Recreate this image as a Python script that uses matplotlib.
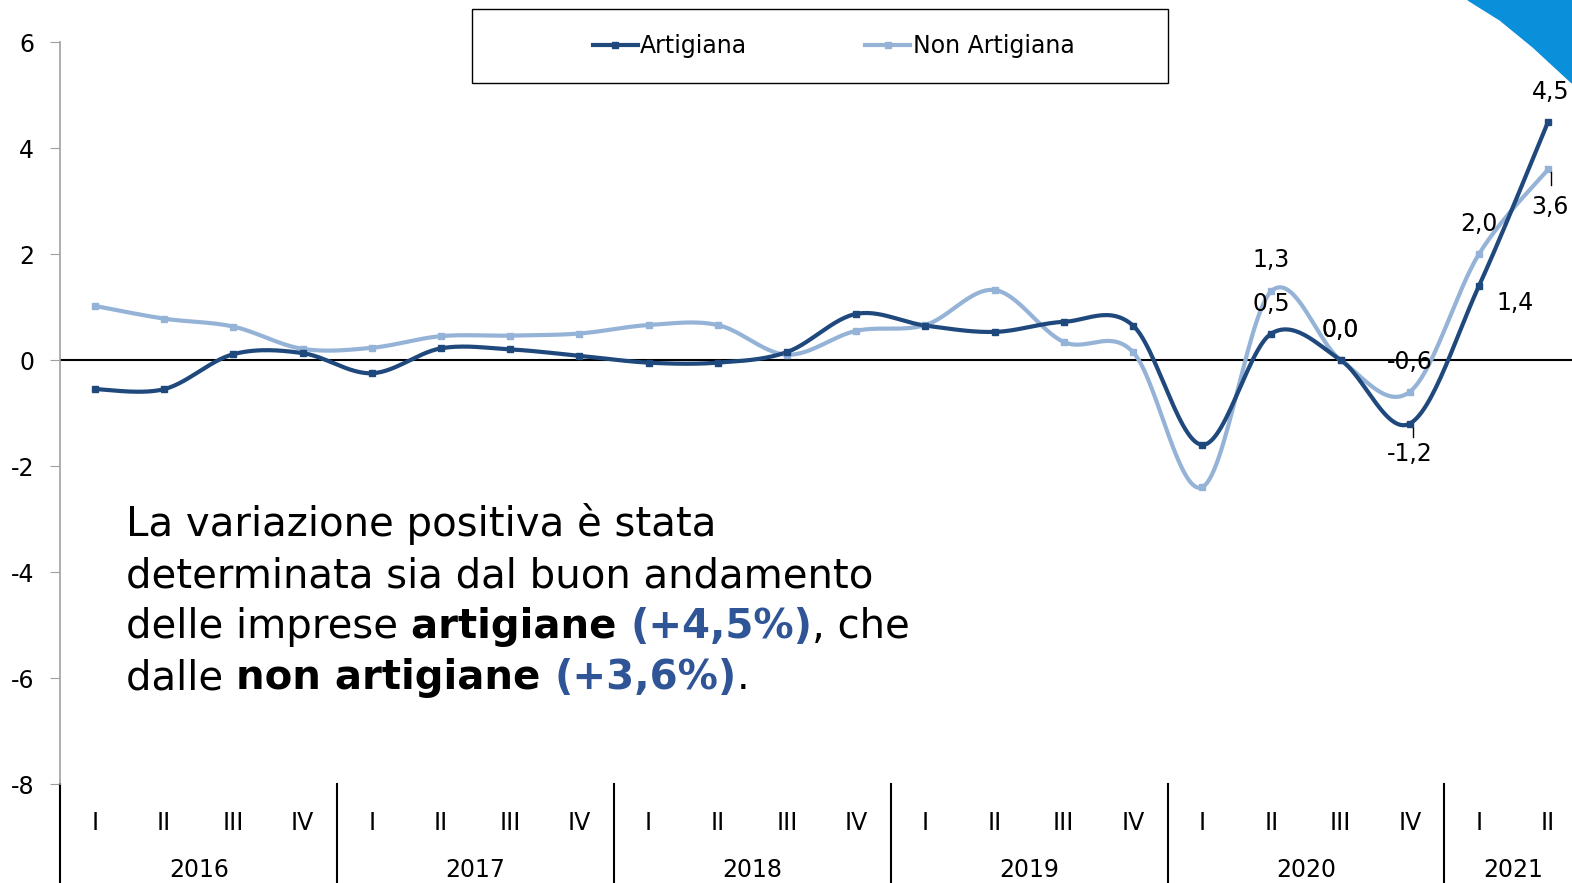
import numpy as np
import matplotlib.pyplot as plt
from matplotlib.patches import Polygon, Rectangle
from matplotlib import transforms

quarters = ["I", "II", "III", "IV"] * 5 + ["I", "II"]
years = ["2016", "2017", "2018", "2019", "2020", "2021"]
year_counts = [4, 4, 4, 4, 4, 2]

artigiana = [-0.55, -0.55, 0.11, 0.13, -0.25, 0.22, 0.20, 0.08, -0.05, -0.05, 0.15, 0.87,
             0.65, 0.53, 0.72, 0.65, -1.6, 0.5, 0.0, -1.2, 1.4, 4.5]
non_artigiana = [1.02, 0.78, 0.63, 0.21, 0.23, 0.45, 0.46, 0.50, 0.66, 0.66, 0.10, 0.55,
                 0.66, 1.32, 0.34, 0.15, -2.4, 1.3, 0.0, -0.6, 2.0, 3.6]

# labels shown only from 2020 II onwards: (index, offset in px)
lab_art = {17: (0, 30), 18: (0, 30), 19: (0, -30), 20: (36, -17), 21: (2, 29)}
lab_non = {17: (0, 31), 18: (0, 30), 19: (0, 30), 20: (0, 30), 21: (2, -38)}

DARK = "#1F497D"
LIGHT = "#95B3D7"
FONT = ["DejaVu Sans"]
TXT = ["DejaVu Sans"]

W, H = 1572, 883
fig = plt.figure(figsize=(W / 100, H / 100), dpi=100)
ax = fig.add_axes([60.4 / W, (H - 784) / H, 1522.4 / W, 742 / H])


def smooth(y, n=30):
    # Catmull-Rom style bezier, like the "smoothed line" option
    x = np.arange(len(y), dtype=float)
    p = np.column_stack([x, np.asarray(y, dtype=float)])
    out = [p[0]]
    t = np.linspace(0, 1, n)[1:, None]
    for i in range(len(p) - 1):
        p0 = p[i - 1] if i > 0 else p[i]
        p3 = p[i + 2] if i + 2 < len(p) else p[i + 1]
        c1 = p[i] + (p[i + 1] - p0) / 6
        c2 = p[i + 1] - (p3 - p[i]) / 6
        seg = ((1 - t) ** 3) * p[i] + 3 * ((1 - t) ** 2) * t * c1 + 3 * (1 - t) * t ** 2 * c2 + t ** 3 * p[i + 1]
        out.extend(seg)
    out = np.array(out)
    return out[:, 0], out[:, 1]


xs = np.arange(len(quarters))
for vals, col, name in [(non_artigiana, LIGHT, "Non Artigiana"), (artigiana, DARK, "Artigiana")]:
    sx, sy = smooth(vals)
    ax.plot(sx, sy, color=col, lw=3, solid_capstyle="round", zorder=3)
    ax.plot(xs, vals, ls="none", marker="s", ms=5, color=col, zorder=4)

ax.axhline(0, color="black", lw=1.5, zorder=2)

for vals, labs in [(artigiana, lab_art), (non_artigiana, lab_non)]:
    for i, (dx, dy) in labs.items():
        ax.annotate(f"{vals[i]:.1f}".replace(".", ","), (xs[i], vals[i]), xytext=(dx * 0.72, dy * 0.72),
                    textcoords="offset points", ha="center", va="center", fontsize=17,
                    family=FONT, zorder=5)
# small leader ticks
for i, vals, y0, y1 in [(19, artigiana, -4, -13), (21, non_artigiana, -3, -16)]:
    ax.plot([xs[i] + 0.04] * 2, [vals[i] - abs(y0) / 53, vals[i] - abs(y1) / 53],
            color="black", lw=1, zorder=5)

ax.set_xlim(-0.5, len(quarters) - 0.5)
ax.set_ylim(-8, 6)
ax.set_yticks(np.arange(-8, 7, 2))
ax.set_yticklabels([str(v) for v in range(-8, 7, 2)], fontsize=17, family=FONT)
ax.tick_params(axis="y", length=7, color="#A0A0A0", pad=12)
ax.set_xticks([])
for s in ["top", "right", "bottom"]:
    ax.spines[s].set_visible(False)
ax.spines["left"].set_color("#A0A0A0")
ax.spines["left"].set_linewidth(1.2)

# two-level category axis
tr = transforms.blended_transform_factory(ax.transData, ax.transAxes)
for i, q in enumerate(quarters):
    ax.text(i, -0.0525, q, transform=tr, ha="center", va="center", fontsize=17, family=FONT)
start = 0
bounds = [-0.5]
for yr, n in zip(years, year_counts):
    ax.text(start + (n - 1) / 2, -0.116, yr, transform=tr, ha="center", va="center",
            fontsize=17, family=FONT)
    start += n
    bounds.append(start - 0.5)
for b in bounds:
    ax.plot([b, b], [0, -0.14], transform=tr, color="black", lw=1.5, clip_on=False)

# legend
fig.patches.append(Rectangle((472 / W, 1 - 83 / H), 696 / W, 74 / H, transform=fig.transFigure,
                             fill=False, edgecolor="black", lw=1))
h = [plt.Line2D([], [], color=DARK, lw=3, marker="s", ms=5),
     plt.Line2D([], [], color=LIGHT, lw=3, marker="s", ms=5)]
fig.legend(h, ["Artigiana", "Non Artigiana"], loc="center left", bbox_to_anchor=(593 / W, 1 - 46 / H),
           ncol=2, frameon=False, prop={"family": FONT, "size": 17}, handlelength=1.9,
           handletextpad=0.1, columnspacing=5.0, borderpad=0, borderaxespad=0)

# corner decoration
fig.patches.append(Polygon([(1468 / W, 1), (1500 / W, 1 - 20 / H), (1533 / W, 1 - 47 / H),
                            (1572 / W, 1 - 83 / H), (1, 1)], closed=True, transform=fig.transFigure,
                           color="#0A8FDB", zorder=10))

# rich text block
lines = [
    [("La variazione positiva è stata", "normal", "black")],
    [("determinata sia dal buon andamento", "normal", "black")],
    [("delle imprese ", "normal", "black"), ("artigiane ", "bold", "black"),
     ("(+4,5%)", "bold", "#2F5597"), (", che", "normal", "black")],
    [("dalle ", "normal", "black"), ("non artigiane ", "bold", "black"),
     ("(+3,6%)", "bold", "#2F5597"), (".", "normal", "black")],
]
fig.canvas.draw()
r = fig.canvas.get_renderer()
for k, parts in enumerate(lines):
    x = 126
    y = 536 + 51 * k
    for s, wt, c in parts:
        t = fig.text(x / W, 1 - y / H, s, fontsize=29, family=TXT, weight=wt, color=c, va="baseline")
        x += t.get_window_extent(r).width

fig.savefig("out.png", dpi=100)
